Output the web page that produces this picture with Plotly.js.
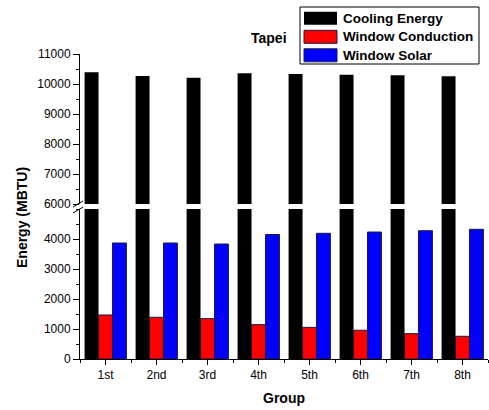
<!DOCTYPE html>
<html>
<head>
<meta charset="utf-8">
<script src="https://cdn.plot.ly/plotly-3.0.1.min.js"></script>
<style>html,body{margin:0;padding:0;background:#fff;}#chart{width:489px;height:410px;}</style>
</head>
<body>
<div id="chart"></div>
<script>
const groups = ['1st','2nd','3rd','4th','5th','6th','7th','8th'];
const coolingEnergy = [10390, 10270, 10210, 10360, 10335, 10310, 10290, 10260];
const windowConduction = [1467, 1390, 1345, 1145, 1055, 958, 845, 757];
const windowSolar = [3867, 3867, 3833, 4150, 4190, 4233, 4277, 4323];
const seriesNames = ['Cooling Energy', 'Window Conduction', 'Window Solar'];
const seriesColors = ['#000000', '#ff0000', '#0000ff'];
const yTicksLower = [0, 1000, 2000, 3000, 4000];
const yTicksUpper = [6000, 7000, 8000, 9000, 10000, 11000];

const xs = groups.map((g, i) => i);
const seriesValues = [coolingEnergy, windowConduction, windowSolar];
const traces = [];
['y', 'y2'].forEach(ya => {
  seriesValues.forEach((vals, k) => {
    traces.push({
      type: 'bar', x: xs, y: vals, yaxis: ya, xaxis: 'x',
      name: seriesNames[k], showlegend: false, hoverinfo: 'skip',
      marker: {color: seriesColors[k], line: {color: k === 0 ? '#000' : '#1a1a40', width: k === 0 ? 0 : 1}}
    });
  });
});

// plot area: left 80, width 408; bottom 359, height 305 (pixel -> paper helpers for decorations)
const px2x = p => (p - 80) / 408;
const px2y = p => (359 - p) / 305;

const font = {family: '"Liberation Sans", Arial, sans-serif', color: '#000'};
const yCommon = {
  showline: true, linecolor: '#000', linewidth: 1, ticks: 'outside', ticklen: 6, tickwidth: 1,
  tickcolor: '#000', showgrid: false, zeroline: false, anchor: 'x', tickformat: 'd',
  tickfont: {family: font.family, size: 12, color: '#000'},
  minor: {ticks: 'outside', ticklen: 3, dtick: 500, tickcolor: '#000', showgrid: false}
};

const shapes = [
  {type: 'line', xref: 'paper', yref: 'paper', x0: px2x(73), y0: px2y(207), x1: px2x(83), y1: px2y(201), line: {color: '#000', width: 1}},
  {type: 'line', xref: 'paper', yref: 'paper', x0: px2x(73), y0: px2y(213), x1: px2x(83), y1: px2y(207), line: {color: '#000', width: 1}},
  // legend box
  {type: 'rect', xref: 'paper', yref: 'paper', x0: px2x(300), y0: px2y(64), x1: px2x(479), y1: px2y(7),
   line: {color: '#000', width: 1}, fillcolor: '#fff', layer: 'above'}
];
const annotations = [
  {text: '<b>Tapei</b>', xref: 'paper', yref: 'paper', x: px2x(269), y: px2y(38), xanchor: 'center', yanchor: 'middle',
   showarrow: false, font: {family: font.family, size: 14, color: '#000'}},
  {text: '<b>Energy (MBTU)</b>', xref: 'paper', yref: 'paper', x: px2x(22), y: px2y(218), textangle: -90,
   xanchor: 'center', yanchor: 'middle', showarrow: false, font: {family: font.family, size: 14, color: '#000'}},
  {text: '<b>Group</b>', xref: 'paper', yref: 'paper', x: px2x(284), y: px2y(398), xanchor: 'center', yanchor: 'middle',
   showarrow: false, font: {family: font.family, size: 14, color: '#000'}}
];
seriesNames.forEach((n, k) => {
  const cy = 18.3 + 18.5 * k;
  shapes.push({type: 'rect', xref: 'paper', yref: 'paper', x0: px2x(304), x1: px2x(337), y0: px2y(cy + 6.5), y1: px2y(cy - 6.5),
    fillcolor: seriesColors[k], line: {color: '#1a1a40', width: k === 0 ? 0 : 1}, layer: 'above'});
  annotations.push({text: '<b>' + n + '</b>', xref: 'paper', yref: 'paper', x: px2x(341), y: px2y(cy),
    xanchor: 'left', yanchor: 'middle', showarrow: false, font: {family: font.family, size: 13.5, color: '#000'}});
});

const layout = {
  width: 489, height: 410,
  margin: {l: 80, r: 1, t: 54, b: 51},
  paper_bgcolor: '#fff', plot_bgcolor: '#fff',
  font: font, showlegend: false,
  barmode: 'group', bargap: 0.18, bargroupgap: 0,
  xaxis: {
    range: [-0.5, 7.5], tickvals: xs, ticktext: groups, showline: true, linecolor: '#000', linewidth: 1,
    ticks: 'outside', ticklen: 5, tickcolor: '#000', showgrid: false, zeroline: false, anchor: 'y',
    tickfont: {family: font.family, size: 12, color: '#000'},
    minor: {ticks: 'outside', ticklen: 3, tick0: 0.5, dtick: 1, tickcolor: '#000', showgrid: false}
  },
  yaxis: Object.assign({}, yCommon, {domain: [0, 0.4918], range: [0, 5000], tickvals: yTicksLower}),
  yaxis2: Object.assign({}, yCommon, {domain: [0.5082, 1], range: [6000, 11000], tickvals: yTicksUpper}),
  annotations: annotations,
  shapes: shapes
};
Plotly.newPlot('chart', traces, layout, {displayModeBar: false, staticPlot: true});
</script>
</body>
</html>
